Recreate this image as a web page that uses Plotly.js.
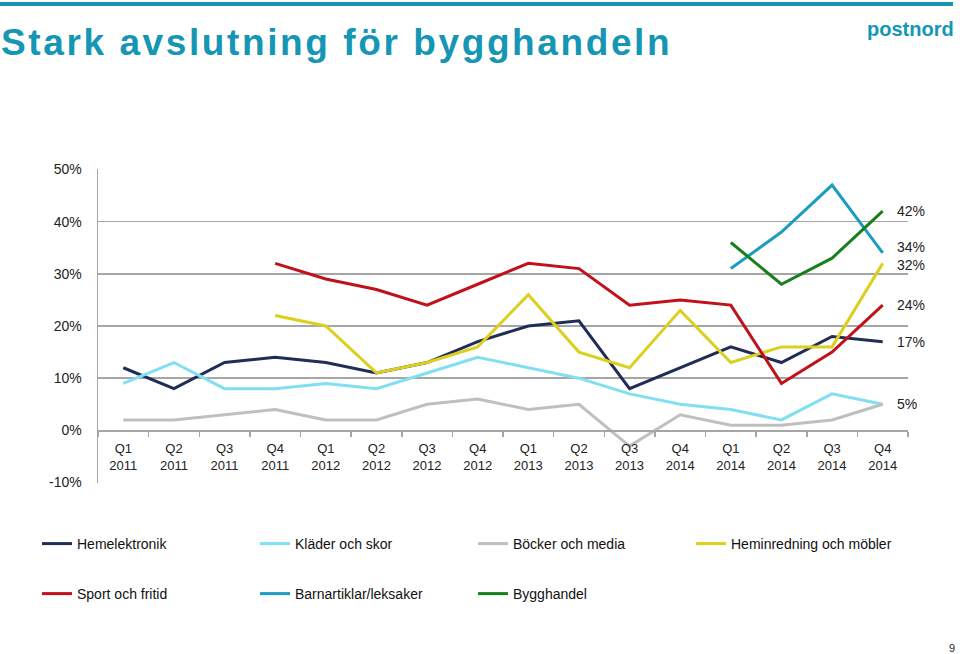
<!DOCTYPE html>
<html>
<head>
<meta charset="utf-8">
<script src="https://cdn.plot.ly/plotly-3.0.1.min.js"></script>
<style>
html,body{margin:0;padding:0;background:#fff;}
#chart{width:960px;height:654px;}
</style>
</head>
<body>
<div id="chart"></div>
<script>
// Category positions and tick labels (as printed in the original)
const quarterLabels = ["Q1<br>2011","Q2<br>2011","Q3<br>2011","Q4<br>2011",
  "Q1<br>2012","Q2<br>2012","Q3<br>2012","Q4<br>2012",
  "Q1<br>2013","Q2<br>2013","Q3<br>2013","Q4<br>2014",
  "Q1<br>2014","Q2<br>2014","Q3<br>2014","Q4<br>2014"];
const quarterIndex = [1,2,3,4,5,6,7,8,9,10,11,12,13,14,15,16];
const boundaryTicks = [0.5,1.5,2.5,3.5,4.5,5.5,6.5,7.5,8.5,9.5,10.5,11.5,12.5,13.5,14.5,15.5,16.5];

const yTicks = [-10,0,10,20,30,40,50];
const yTickText = ["-10%","0%","10%","20%","30%","40%","50%"];

// Series values (%)
const hemelektronik = [12,8,13,14,13,11,13,17,20,21,8,12,16,13,18,17];
const kladerOchSkor = [9,13,8,8,9,8,11,14,12,10,7,5,4,2,7,5];
const bockerOchMedia = [2,2,3,4,2,2,5,6,4,5,-3,3,1,1,2,5];
const heminredning = [null,null,null,22,20,11,13,16,26,15,12,23,13,16,16,32];
const sportOchFritid = [null,null,null,32,29,27,24,28,32,31,24,25,24,9,15,24];
const barnartiklar = [null,null,null,null,null,null,null,null,null,null,null,null,31,38,47,34];
const bygghandel = [null,null,null,null,null,null,null,null,null,null,null,null,36,28,33,42];

const seriesNames = ["Hemelektronik","Kläder och skor","Böcker och media","Heminredning och möbler",
  "Sport och fritid","Barnartiklar/leksaker","Bygghandel"];
const seriesData = [hemelektronik,kladerOchSkor,bockerOchMedia,heminredning,sportOchFritid,barnartiklar,bygghandel];
const seriesColors = ["#1f2d57","#80e0f2","#bfbfbf","#dcd01e","#c0121a","#1b9cc0","#17801c"];

// Legend grid: column (0-3) and row (0-1) of each series
const legendCol = [0,1,2,3,0,1,2];
const legendRow = [0,0,0,0,1,1,1];

// End-of-line labels: series index and vertical pixel nudge
const endLabelSeries = [6,5,3,4,0,1];
const endLabelShift = [0,6,-2,0,0,0];

const titleText = "Stark avslutning för bygghandeln";

// Page geometry helpers (pixel -> paper)
const W = 960, H = 654, ML = 98, MR = 52, MT = 169, MB = 171;
const PW = W - ML - MR, PH = H - MT - MB;
const px = v => (v - ML) / PW;
const py = v => (H - MB - v) / PH;

const yRange = [-10.08, 50.08];
const zeroPos = (0 - yRange[0]) / (yRange[1] - yRange[0]);

const font = "Liberation Sans, Arial, sans-serif";
const legendFont = {family:font, size:14, color:"#111"};
const legendKey = i => i === 0 ? "legend" : "legend" + (i+1);

const traces = seriesData.map((vals,i)=>({
  type:"scatter", mode:"lines",
  x: quarterIndex, y: vals, name: seriesNames[i],
  line:{color:seriesColors[i], width:3},
  legend: legendKey(i),
  connectgaps:false,
  hoverinfo:"skip"
}));

const annotations = endLabelSeries.map((si,k)=>{
  const vals = seriesData[si];
  const last = vals[vals.length-1];
  return {
    x: quarterIndex[quarterIndex.length-1], y: last, xref:"x", yref:"y",
    text: last + "%", showarrow:false, xanchor:"left", yanchor:"middle",
    xshift: 12, yshift: endLabelShift[k],
    font:{family:font, size:14, color:"#222"}
  };
});

annotations.push({
  xref:"paper", yref:"paper", x:px(-2), y:py(42), xanchor:"left", yanchor:"middle",
  text:titleText, showarrow:false,
  font:{family:font, size:37, color:"#1596b4", weight:"bold"}
});
annotations.push({
  xref:"paper", yref:"paper", x:px(956), y:py(29), xanchor:"right", yanchor:"middle",
  text:"postnord", showarrow:false,
  font:{family:font, size:20, color:"#1596b4", weight:"bold"}
});
annotations.push({
  xref:"paper", yref:"paper", x:px(957), y:py(648), xanchor:"right", yanchor:"middle",
  text:"9", showarrow:false,
  font:{family:font, size:11, color:"#222"}
});

const layout = {
  width:W, height:H,
  margin:{l:ML, r:MR, t:MT, b:MB},
  paper_bgcolor:"#fff", plot_bgcolor:"#fff",
  showlegend:true,
  xaxis:{
    range:[0.5,16.5], anchor:"free", position:zeroPos,
    tickmode:"array", tickvals:quarterIndex, ticktext:quarterLabels,
    ticks:"", ticklabelstandoff:6,
    showline:true, linecolor:"#a6a6a6", linewidth:1.5,
    showgrid:false, zeroline:false, fixedrange:true,
    minor:{tickmode:"array", tickvals:boundaryTicks, ticks:"outside", ticklen:5, tickcolor:"#a6a6a6", tickwidth:1.5, showgrid:false},
    tickfont:{family:font, size:13, color:"#222"}
  },
  yaxis:{
    range:yRange, tickmode:"array", tickvals:yTicks, ticktext:yTickText,
    showgrid:true, gridcolor:"#a6a6a6", gridwidth:1.5,
    zeroline:false, showline:true, linecolor:"#a6a6a6", linewidth:1.5,
    ticks:"", ticklabelstandoff:12, fixedrange:true,
    tickfont:{family:font, size:14, color:"#222"}
  },
  shapes:[{
    type:"line", xref:"paper", yref:"paper",
    x0:px(0), x1:px(953), y0:py(4), y1:py(4),
    line:{color:"#1596b4", width:4}
  }],
  annotations: annotations
};

const colX = [37, 255, 473, 691];
const rowY = [544, 594];
seriesNames.forEach((n,i)=>{
  layout[legendKey(i)] = {
    orientation:"h", xref:"container", yref:"container",
    x: colX[legendCol[i]]/W, y: 1 - rowY[legendRow[i]]/H,
    xanchor:"left", yanchor:"middle", itemwidth:30,
    font:legendFont, bgcolor:"rgba(0,0,0,0)"
  };
});

Plotly.newPlot("chart", traces, layout, {displayModeBar:false, staticPlot:true}).then(gd=>{
  gd.querySelectorAll(".annotation-text").forEach(t=>{
    if (t.textContent === titleText) {
      t.style.letterSpacing = "2.6px";
      t.setAttribute("text-anchor", "start");
      const host = gd.getBoundingClientRect();
      const r = t.getBoundingClientRect();
      const dx = (host.left + 1) - r.left;
      t.setAttribute("x", (parseFloat(t.getAttribute("x")) || 0) + dx);
    }
  });
});
</script>
</body>
</html>
